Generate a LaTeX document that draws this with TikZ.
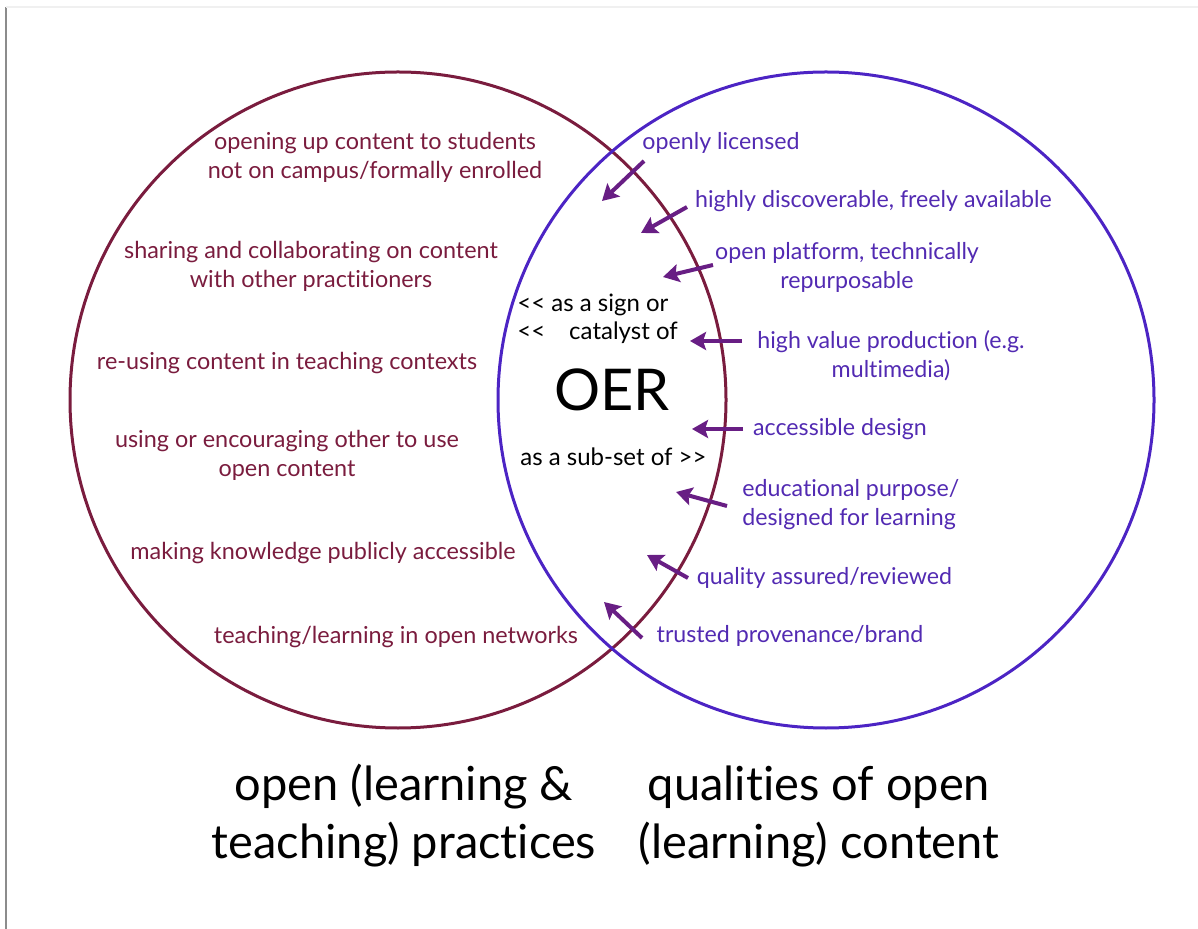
\documentclass[tikz,border=0pt]{standalone}
\usepackage{fontspec}
\setmainfont{Lato}[Ligatures=NoCommon]
\usetikzlibrary{arrows.meta}

\definecolor{practice}{RGB}{122,28,62}
\definecolor{quality}{RGB}{76,36,196}
\definecolor{qualitytext}{RGB}{82,42,178}
\definecolor{pointer}{RGB}{104,30,132}

\tikzset{
  ring/.style={circle, draw, line width=1.5pt, inner sep=0pt, minimum size=328pt},
  practicetext/.style={text=practice, font=\fontsize{11.7}{14.5}\selectfont, align=center, inner sep=0pt},
  qualitytext/.style={text=qualitytext, font=\fontsize{11.6}{14.5}\selectfont, align=center, inner sep=0pt},
  oertext/.style={font=\fontsize{12}{14}\selectfont, align=left, inner sep=0pt, anchor=west},
  title/.style={font=\fontsize{23.5}{29}\selectfont, align=center, inner sep=0pt},
  pointer/.style={draw=pointer, line width=2pt, -{Stealth[length=8pt, width=9pt, inset=1.5pt]}}
}

\begin{document}
\begin{tikzpicture}[x=0.5pt, y=-0.5pt]
    \useasboundingbox (0,0) rectangle (1198,929);

    % Frame edges
    \draw[black!45, line width=0.6pt] (6,7) -- (6,929);
    \draw[black!6, line width=0.6pt] (6,7) -- (1198,7);

    % Two circles
    \node[ring, draw=practice] (practices) at (398,400) {};
    \node[ring, draw=quality] (qualities) at (826,400) {};

    % Left circle labels
    \node[practicetext] (p1) at (375,157.5) {opening up content to students\\not on campus/formally enrolled};
    \node[practicetext] (p2) at (311,266.5) {sharing and collaborating on content\\with other practitioners};
    \node[practicetext] (p3) at (287,363) {re-using content in teaching contexts};
    \node[practicetext] (p4) at (287,455.5) {using or encouraging other to use\\open content};
    \node[practicetext] (p5) at (323,553) {making knowledge publicly accessible};
    \node[practicetext] (p6) at (396,637) {teaching/learning in open networks};

    % Right circle labels
    \node[qualitytext] (q1) at (721,143) {openly licensed};
    \node[qualitytext] (q2) at (873.5,201) {highly discoverable, freely available};
    \node[qualitytext] (q3) at (847,267.5) {open platform, technically\\repurposable};
    \node[qualitytext] (q4) at (891,355.5) {high value production (e.g.\\multimedia)};
    \node[qualitytext] (q5) at (840,429) {accessible design};
    \node[qualitytext, align=left, anchor=west] (q6) at (742,504.5) {educational purpose/\\designed for learning};
    \node[qualitytext] (q7) at (824.5,578) {quality assured/reviewed};
    \node[qualitytext] (q8) at (790,636) {trusted provenance/brand};

    % Overlap labels
    \node[oertext] (sign) at (517,319) {<\kern0pt< as a sign or\\<\kern0pt<\hspace{12pt}catalyst of};
    \node[font=\fontsize{28.8}{32}\selectfont, inner sep=0pt] (oer) at (612,390) {OER};
    \node[oertext] (subset) at (520,457) {as a sub-set of >\kern0pt>};

    % Arrow ends
    \coordinate (s1) at (644,161); \coordinate (e1) at (602,201);
    \coordinate (s2) at (687,207); \coordinate (e2) at (641,233);
    \coordinate (s3) at (713,265); \coordinate (e3) at (663,277);
    \coordinate (s4) at (742,341); \coordinate (e4) at (690,341);
    \coordinate (s5) at (743,429); \coordinate (e5) at (692,429);
    \coordinate (s6) at (727,506); \coordinate (e6) at (676,492);
    \coordinate (s7) at (688,578); \coordinate (e7) at (647,555);
    \coordinate (s8) at (642,638); \coordinate (e8) at (604,602);

    % Arrows into the overlap
    \draw[pointer] (s1) -- (e1);
    \draw[pointer] (s2) -- (e2);
    \draw[pointer] (s3) -- (e3);
    \draw[pointer] (s4) -- (e4);
    \draw[pointer] (s5) -- (e5);
    \draw[pointer] (s6) -- (e6);
    \draw[pointer] (s7) -- (e7);
    \draw[pointer] (s8) -- (e8);

    % Titles below the circles
    \node[title] (practicetitle) at (404,816) {open (learning \&\\teaching) practices};
    \node[title] (qualitytitle) at (819,816) {qualities of open\\(learning) content};
\end{tikzpicture}
\end{document}
